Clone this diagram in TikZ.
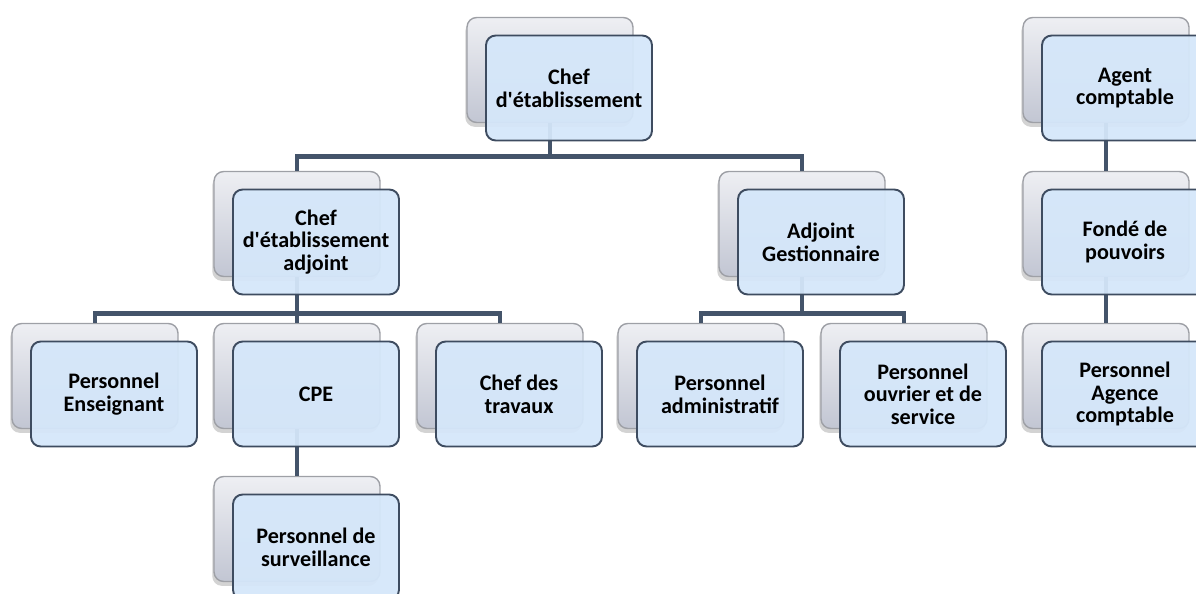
\documentclass[tikz,border=0pt]{standalone}
\usepackage{fontspec}
\setmainfont{Carlito}
\usetikzlibrary{positioning,shadows}
\definecolor{linkblue}{RGB}{68,84,106}
\definecolor{frontfill}{RGB}{213,231,250}
\definecolor{frontline}{RGB}{62,76,96}
\definecolor{backtop}{RGB}{238,239,243}
\definecolor{backbot}{RGB}{194,198,211}
\definecolor{backline}{RGB}{158,160,166}
\newcommand{\apos}{\textquotesingle}

\begin{document}
\begin{tikzpicture}[
    x=0.02cm, y=-0.02cm,
    backbox/.style={rectangle, rounded corners=5.5pt, minimum width=3.32cm, minimum height=2.1cm, draw=backline, thick, top color=backtop, bottom color=backbot, drop shadow={shadow xshift=-1pt, shadow yshift=-2.5pt, opacity=0.35}},
    frontbox/.style={rectangle, rounded corners=5.5pt, minimum width=3.32cm, minimum height=2.1cm, draw=frontline, line width=1.1pt, fill=frontfill, fill opacity=0.94, text opacity=1, align=center, font=\fontsize{12.6}{12.9}\selectfont\bfseries},
    link/.style={draw=linkblue, line width=2.8pt}
]
\useasboundingbox (0,0) rectangle (1196,594);

% Back boxes
\node[backbox] (chefB) at (550,70) {};
\node[backbox] (adjB) at (297,224) {};
\node[backbox] (gestB) at (802,224) {};
\node[backbox] (ensB) at (95,376) {};
\node[backbox] (cpeB) at (297,376) {};
\node[backbox] (travB) at (500,376) {};
\node[backbox] (admB) at (701,376) {};
\node[backbox] (ouvB) at (904,376) {};
\node[backbox] (survB) at (297,529) {};
\node[backbox] (agentB) at (1106,70) {};
\node[backbox] (fondeB) at (1106,224) {};
\node[backbox] (agenceB) at (1106,376) {};

% Links
\draw[link] (chefB.south) -- ++(0,33) -| (adjB.north);
\draw[link] (chefB.south) -- ++(0,33) -| (gestB.north);
\draw[link] (adjB.south) -- ++(0,36) -| (ensB.north);
\draw[link] (adjB.south) -- (cpeB.north);
\draw[link] (adjB.south) -- ++(0,36) -| (travB.north);
\draw[link] (gestB.south) -- ++(0,36) -| (admB.north);
\draw[link] (gestB.south) -- ++(0,36) -| (ouvB.north);
\draw[link] (cpeB.south) -- (survB.north);
\draw[link] (agentB.south) -- (fondeB.north);
\draw[link] (fondeB.south) -- (agenceB.north);

% Front boxes
\node[frontbox] (chef) at (569,88) {Chef\\d\apos établissement};
\node[frontbox] (adj) at (316,242) {Chef\\d\apos établissement\\adjoint};
\node[frontbox] (gest) at (821,242) {Adjoint\\Gestionnaire};
\node[frontbox] (ens) at (114,394) {Personnel\\Enseignant};
\node[frontbox] (cpe) at (316,394) {CPE};
\node[frontbox] (trav) at (519,394) {Chef des\\travaux};
\node[frontbox] (adm) at (720,394) {Personnel\\administratif};
\node[frontbox] (ouv) at (923,394) {Personnel\\ouvrier et de\\service};
\node[frontbox] (surv) at (316,547) {Personnel de\\surveillance};
\node[frontbox] (agent) at (1125,88) {Agent\\comptable};
\node[frontbox] (fonde) at (1125,242) {Fondé de\\pouvoirs};
\node[frontbox] (agence) at (1125,394) {Personnel\\Agence\\comptable};

\end{tikzpicture}
\end{document}
